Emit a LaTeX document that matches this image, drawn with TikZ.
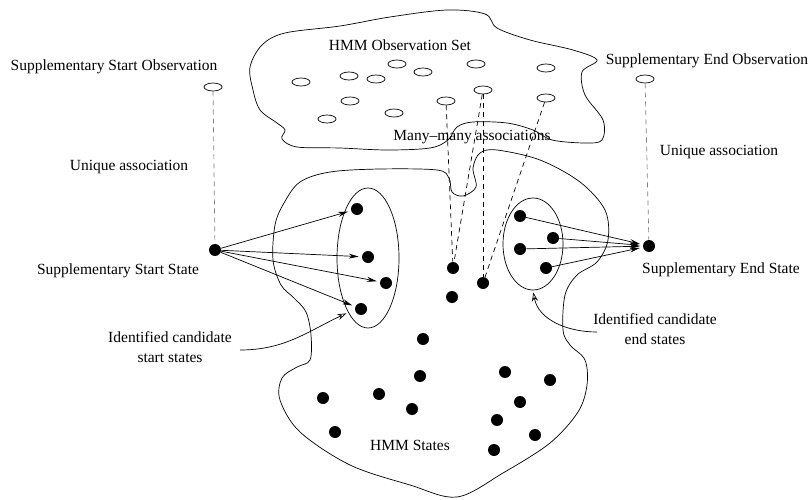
\documentclass[tikz,border=0pt]{standalone}
\usepackage{fontspec}
\setmainfont{Liberation Serif}
\usetikzlibrary{arrows.meta,shapes.geometric}

\begin{document}
\begin{tikzpicture}[x=1pt, y=-1pt, line width=0.7pt,
      st/.style={circle, fill, inner sep=0pt, minimum size=12pt},
      obs/.style={draw, ellipse, inner sep=0pt,
                  minimum width=18pt, minimum height=8pt},
      cand/.style={draw, ellipse, inner sep=0pt},
      lbl/.style={font=\fontsize{15.5}{19.5}\selectfont, align=center,
                  inner sep=0pt},
      arr/.style={-{Stealth[length=10pt, width=5pt]}, shorten >=3pt},
      hint/.style={-{Stealth[open, length=9pt, width=6pt]}, shorten >=2pt},
      assoc/.style={dashed, dash pattern=on 5pt off 4pt},
      uniq/.style={assoc, gray}
  ]
    \useasboundingbox (0,0) rectangle (811,500);

    % observation set and state set outlines
    \draw plot[smooth cycle, tension=0.55] coordinates {
      (250,67) (262,45) (285,33) (340,26) (390,17) (447,10) (485,14)
      (497,28) (530,40) (573,50) (597,60) (582,72) (585,95) (603,120)
      (602,140) (585,143) (552,140) (533,130) (507,123) (473,122)
      (457,127) (448,140) (430,148) (387,150) (340,148) (297,147)
      (282,139) (285,130) (277,123) (260,110) (253,90)};
    \draw plot[smooth cycle, tension=0.55] coordinates {
      (300,182) (330,172) (380,169) (437,170) (449,178) (452,192)
      (463,196) (476,187) (473,168) (480,153) (497,150) (540,160)
      (580,182) (605,210) (608,240) (597,262) (577,275) (565,295)
      (563,330) (570,345) (585,360) (587,385) (578,412) (550,443)
      (503,473) (457,497) (410,485) (350,465) (300,432) (280,400)
      (282,378) (297,367) (310,360) (311,335) (306,312) (294,298)
      (281,285) (273,260) (275,225) (284,203)};

    % candidate groups
    \node[cand, minimum width=62pt, minimum height=140pt] (startset) at (368,258) {};
    \node[cand, minimum width=60pt, minimum height=92pt] (endset) at (533,244) {};

    % observations
    \node[obs] (o1) at (301,82) {};
    \node[obs] (o2) at (349,76) {};
    \node[obs] (o3) at (376,79) {};
    \node[obs] (o4) at (397,64) {};
    \node[obs] (o5) at (423,72) {};
    \node[obs] (o6) at (476,64) {};
    \node[obs] (o7) at (546,68) {};
    \node[obs] (o8) at (483,90) {};
    \node[obs] (o9) at (546,98) {};
    \node[obs] (o10) at (446,101) {};
    \node[obs] (o11) at (394,113) {};
    \node[obs] (o12) at (350,101) {};
    \node[obs] (o13) at (327,119) {};
    \node[obs] (sobs) at (213,87) {};
    \node[obs] (eobs) at (645,79) {};

    % states
    \node[st] (sst) at (215,250) {};
    \node[st] (est) at (649,246) {};
    \node[st] (s1) at (357,209) {};
    \node[st] (s2) at (368,257) {};
    \node[st] (s3) at (386,283) {};
    \node[st] (s4) at (361,309) {};
    \node[st] (e1) at (520,216) {};
    \node[st] (e2) at (553,238) {};
    \node[st] (e3) at (520,249) {};
    \node[st] (e4) at (546,268) {};
    \node[st] (m1) at (453,268) {};
    \node[st] (m2) at (483,283) {};
    \node[st] (m3) at (452,297) {};
    \node[st] (m4) at (423,339) {};
    \node[st] (m5) at (420,376) {};
    \node[st] (m6) at (412,409) {};
    \node[st] (m7) at (379,394) {};
    \node[st] (m8) at (323,398) {};
    \node[st] (m9) at (335,432) {};
    \node[st] (m10) at (505,372) {};
    \node[st] (m11) at (550,380) {};
    \node[st] (m12) at (520,402) {};
    \node[st] (m13) at (497,420) {};
    \node[st] (m14) at (535,435) {};
    \node[st] (m15) at (494,450) {};

    % labels
    \node[lbl] (obsset) at (400,45) {HMM Observation Set};
    \node[lbl] (sobsl) at (114,67) {Supplementary Start Observation};
    \node[lbl] (eobsl) at (707,61) {Supplementary End Observation};
    \node[lbl] (suniq) at (129,167) {Unique association};
    \node[lbl] (euniq) at (719,152) {Unique association};
    \node[lbl] (sstl) at (118,271) {Supplementary Start State};
    \node[lbl] (estl) at (721,270) {Supplementary End State};
    \node[lbl] (many) at (472,137) {Many\textendash many associations};
    \node[lbl] (scand) at (170,347) {Identified candidate\\ start states};
    \node[lbl] (ecand) at (655,329) {Identified candidate\\ end states};
    \node[lbl] (states) at (410,445) {HMM States};

    % associations
    \draw[uniq] (sobs) -- (sst);
    \draw[uniq] (eobs) -- (est);
    \draw[assoc] (o10) -- (m1);
    \draw[assoc] (o8) -- (m1);
    \draw[assoc] (o8) -- (m2);
    \draw[assoc] (o9) -- (m2);

    % transitions
    \foreach \n in {s1,s2,s3,s4} \draw[arr] (sst) -- (\n);
    \foreach \n in {e1,e2,e3,e4} \draw[arr] (\n) -- (est);

    % pointers to candidate groups
    \coordinate (sh) at (240,350);
    \coordinate (eh) at (597,332);
    \draw[hint] (sh) to[out=0, in=205] (startset.250);
    \draw[hint] (eh) to[out=180, in=-80] (endset.south);
  \end{tikzpicture}
\end{document}
